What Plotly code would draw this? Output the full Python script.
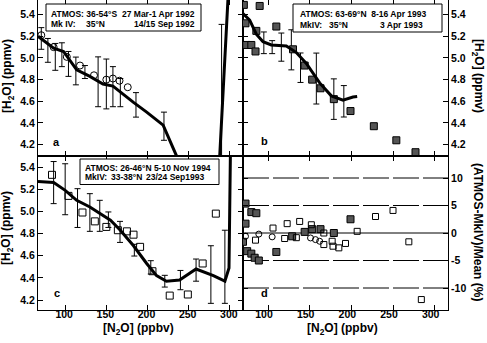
import plotly.graph_objects as go

# ---------------- data ----------------
# panel a : ATMOS 36-54S (circles) and mean MkIV profile (line) with error bars
a_circ_n2o = [71, 86, 102, 118, 135, 150, 158, 166, 176]
a_circ_h2o = [5.21, 5.10, 5.01, 4.93, 4.84, 4.80, 4.81, 4.79, 4.73]
a_line_n2o = [67, 86, 98, 114, 130, 146, 158, 169, 183, 199, 219, 235, 250, 285, 300]
a_line_h2o = [5.20, 5.09, 5.06, 4.89, 4.83, 4.76, 4.74, 4.67, 4.59, 4.50, 4.38, 4.10, 3.85, 3.70, 5.87]
a_err_n2o = [71, 79, 88, 96, 104, 113, 124, 140, 150, 158, 167, 186, 220, 290]
a_err_mid = [5.18, 5.07, 5.01, 5.03, 4.945, 4.88, 4.87, 4.78, 4.76, 4.735, 4.68, 4.567, 4.37, 4.38]
a_err_half = [0.10, 0.11, 0.124, 0.11, 0.115, 0.128, 0.06, 0.23, 0.23, 0.185, 0.13, 0.113, 0.13, 0.93]

# panel b : ATMOS 63-69N (filled squares) and MkIV profile
b_sq_n2o = [71, 90, 73, 86, 110, 74, 80, 85, 130, 144, 153, 163, 179, 199, 227, 254, 277]
b_sq_h2o = [5.49, 5.48, 5.32, 5.25, 5.29, 5.12, 5.12, 5.06, 5.08, 4.93, 4.80, 4.72, 4.62, 4.51, 4.37, 4.24, 4.13]
b_line_n2o = [66, 78, 86, 94, 104, 122, 134, 146, 162, 176, 190, 202, 207]
b_line_h2o = [5.44, 5.35, 5.22, 5.15, 5.12, 5.11, 5.05, 4.95, 4.77, 4.65, 4.61, 4.64, 4.645]
b_err_n2o = [95, 105, 116, 128, 139, 158, 179, 191]
b_err_mid = [5.14, 5.10, 5.10, 5.075, 4.91, 4.81, 4.62, 4.60]
b_err_half = [0.10, 0.06, 0.13, 0.185, 0.136, 0.235, 0.187, 0.145]

# panel c : ATMOS 26-46N (open squares) and MkIV profile
c_sq_n2o = [84, 104, 121, 136, 150, 164, 175, 183, 191, 206, 227, 249, 267, 283]
c_sq_h2o = [5.33, 5.14, 4.99, 4.91, 4.86, 4.83, 4.82, 4.79, 4.68, 4.46, 4.24, 4.25, 4.53, 4.98]
c_line_n2o = [67, 86, 100, 114, 130, 142, 155, 167, 183, 199, 211, 223, 239, 259, 280, 294, 299, 301]
c_line_h2o = [5.27, 5.26, 5.19, 5.10, 5.04, 4.98, 4.92, 4.83, 4.69, 4.53, 4.42, 4.37, 4.38, 4.48, 4.42, 4.37, 4.49, 5.70]
c_err_n2o = [86, 100, 115, 130, 142, 152.5, 166.6, 184, 204, 221, 240, 259, 277, 294]
c_err_mid = [5.26, 5.20, 5.03, 4.99, 4.96, 4.925, 4.815, 4.65, 4.495, 4.37, 4.38, 4.47, 4.43, 4.50]
c_err_half = [0.19, 0.23, 0.175, 0.17, 0.14, 0.07, 0.095, 0.053, 0.06, 0.053, 0.087, 0.10, 0.26, 0.33]

# panel d : (ATMOS-MkIV)/Mean (%)
d_fsq_n2o = [70, 73, 73, 75, 80, 86, 80, 84, 89, 110, 129, 144, 153, 163, 179, 199]
d_fsq_pct = [-1.6, 5.35, 1.7, -3.3, 3.8, 3.6, -3.75, -4.5, -5.0, -3.45, -0.6, 0.2, 0.7, 0.7, 0.0, 2.5]
d_osq_n2o = [85, 106, 120, 123, 134, 138, 152, 167, 167, 177, 178, 185, 193, 207, 229, 250, 269, 284]
d_osq_pct = [-1.3, 0.9, -1.0, 1.7, -0.85, 2.1, 1.5, 0.0, -2.1, -1.5, -2.4, -2.7, -1.9, 0.3, 3.0, 4.1, -1.6, -12.1]
d_circ_n2o = [73, 89, 105, 151, 157, 162]
d_circ_pct = [-0.6, -0.2, -0.7, -0.9, -1.2, -1.5]
d_ref_lines = [-10, -5, 5, 10]

# ticks
x_ticks = [100, 150, 200, 250, 300]
x_ticktext = ["100", "150", "200", "250", "300"]
h2o_ticks = [4.2, 4.4, 4.6, 4.8, 5.0, 5.2, 5.4]
h2o_ticktext = ["4.2", "4.4", "4.6", "4.8", "5.0", "5.2", "5.4"]
pct_ticks = [-10, -5, 0, 5, 10]
pct_ticktext = ["-10", "-5", "0", "5", "10"]

# ---------------- layout helpers ----------------
W, H = 487, 343
ML, MR, MT, MB = 38, 39, 0, 33
PW, PH = W - ML - MR, H - MT - MB
SPLIT = (PH - 156) / PH


def fx(p):
    return (p - ML) / PW


def fy(p):
    return (PH + MT - p) / PH


FONT = "Liberation Sans"
BLACK = "black"

fig = go.Figure()


def line_tr(x, y, xa, ya):
    fig.add_trace(go.Scatter(x=x, y=y, mode="lines", xaxis=xa, yaxis=ya,
                             line=dict(color=BLACK, width=3), hoverinfo="skip"))


def err_tr(x, mid, half, xa, ya):
    fig.add_trace(go.Scatter(x=x, y=mid, mode="markers", xaxis=xa, yaxis=ya,
                             marker=dict(size=1, color="rgba(0,0,0,0)"),
                             error_y=dict(type="data", array=half, color=BLACK,
                                          thickness=1, width=3),
                             hoverinfo="skip"))


def mark_tr(x, y, xa, ya, symbol, size, fill):
    fig.add_trace(go.Scatter(x=x, y=y, mode="markers", xaxis=xa, yaxis=ya,
                             marker=dict(symbol=symbol, size=size, color=fill,
                                         line=dict(color=BLACK, width=1)),
                             hoverinfo="skip"))


# panel a
err_tr(a_err_n2o, a_err_mid, a_err_half, "x", "y")
line_tr(a_line_n2o, a_line_h2o, "x", "y")
mark_tr(a_circ_n2o, a_circ_h2o, "x", "y", "circle-open", 7, BLACK)

# panel b
err_tr(b_err_n2o, b_err_mid, b_err_half, "x2", "y2")
mark_tr(b_sq_n2o, b_sq_h2o, "x2", "y2", "square", 7, "#555555")
line_tr(b_line_n2o, b_line_h2o, "x2", "y2")

# panel c
err_tr(c_err_n2o, c_err_mid, c_err_half, "x3", "y3")
mark_tr(c_sq_n2o, c_sq_h2o, "x3", "y3", "square-open", 7, BLACK)
line_tr(c_line_n2o, c_line_h2o, "x3", "y3")

# panel d
mark_tr(d_fsq_n2o, d_fsq_pct, "x4", "y4", "square", 7, "#555555")
mark_tr(d_osq_n2o, d_osq_pct, "x4", "y4", "square-open", 6, BLACK)
mark_tr(d_circ_n2o, d_circ_pct, "x4", "y4", "circle-open", 6, BLACK)

tickfont = dict(family=FONT, size=10.5, color=BLACK, weight="bold")
common = dict(showline=True, linecolor=BLACK, linewidth=1, mirror="allticks",
              ticks="inside", ticklen=5, tickwidth=1, tickcolor=BLACK,
              showgrid=False, zeroline=False, tickfont=tickfont, fixedrange=True)

xa_ac = dict(range=[67, 316], tickvals=x_ticks, ticktext=x_ticktext, **common)
xa_bd = dict(range=[70, 316], tickvals=x_ticks, ticktext=x_ticktext, **common)

shapes = []
for v in d_ref_lines:
    shapes.append(dict(type="line", xref="x4 domain", yref="y4", x0=0, x1=1, y0=v, y1=v,
                       line=dict(color=BLACK, width=1, dash="26px,4px"), layer="below"))
shapes.append(dict(type="line", xref="x4 domain", yref="y4", x0=0, x1=1, y0=0, y1=0,
                   line=dict(color=BLACK, width=1), layer="below"))

# legend boxes
for (x0, y0, x1, y1) in [(46, 4, 201, 31), (293, 4, 442, 32), (80, 159, 219, 184.5)]:
    shapes.append(dict(type="rect", xref="paper", yref="paper",
                       x0=fx(x0), x1=fx(x1), y0=fy(y1), y1=fy(y0),
                       line=dict(color=BLACK, width=1), fillcolor="white", layer="above"))

annotations = []


def txt(s, x, y, anchor="left", size=8.5, angle=0):
    annotations.append(dict(text=s, x=fx(x), y=fy(y), xref="paper", yref="paper",
                            xanchor=anchor, yanchor="middle", showarrow=False,
                            textangle=angle,
                            font=dict(family=FONT, size=size, color=BLACK, weight="bold")))


# box a
txt("ATMOS: 36-54°S", 49, 14)
txt("27 Mar-1 Apr 1992", 197, 14, "right")
txt("Mk IV:", 49, 24.5)
txt("35°N", 107, 24.5, "right")
txt("14/15 Sep 1992", 197, 24.5, "right")
# box b
txt("ATMOS: 63-69°N\u00a0\u00a08-16 Apr 1993", 298, 14)
txt("MkIV:", 298, 25)
txt("35°N", 350, 25, "right")
txt("3 Apr 1993", 425, 25, "right")
# box c
txt("ATMOS: 26-46°N 5-10 Nov 1994", 83, 167.5)
txt("MkIV:", 83, 177)
txt("33-38°N", 109, 177)
txt("23/24 Sep1993", 144, 177)

# panel letters
txt("a", 56, 142, "center", 11)
txt("b", 264, 141, "center", 11)
txt("c", 57, 293, "center", 11)
txt("d", 264, 293, "center", 11)

# axis titles
txt("[H<sub>2</sub>O] (ppmv)", 8, 76, "center", 12, -90)
txt("[H<sub>2</sub>O] (ppmv)", 7, 228, "center", 12, -90)
txt("[H<sub>2</sub>O] (ppmv)", 478, 76, "center", 12, 90)
txt("(ATMOS-MkIV)/Mean (%)", 478, 232, "center", 12, 90)
txt("[N<sub>2</sub>O] (ppbv)", 138, 329, "center", 12)
txt("[N<sub>2</sub>O] (ppbv)", 342, 329, "center", 12)

fig.update_layout(
    width=W, height=H, autosize=False,
    margin=dict(l=ML, r=MR, t=MT, b=MB, pad=0),
    paper_bgcolor="white", plot_bgcolor="white",
    showlegend=False, hovermode=False,
    font=dict(family=FONT, color=BLACK),
    xaxis=dict(domain=[0, 0.5], anchor="y", showticklabels=False, **xa_ac),
    yaxis=dict(domain=[SPLIT, 1], anchor="x", range=[4.095, 5.535],
               tickvals=h2o_ticks, ticktext=h2o_ticktext, **common),
    xaxis2=dict(domain=[0.5, 1], anchor="y2", showticklabels=False, **xa_bd),
    yaxis2=dict(domain=[SPLIT, 1], anchor="x2", range=[4.095, 5.535], side="right",
                tickvals=h2o_ticks, ticktext=h2o_ticktext, **common),
    xaxis3=dict(domain=[0, 0.5], anchor="y3", ticklabelshift=-1, ticklabelstandoff=-6, **xa_ac),
    yaxis3=dict(domain=[0, SPLIT], anchor="x3", range=[4.11, 5.5],
                tickvals=h2o_ticks, ticktext=h2o_ticktext, **common),
    xaxis4=dict(domain=[0.5, 1], anchor="y4", ticklabelshift=-4, ticklabelstandoff=-6, **xa_bd),
    yaxis4=dict(domain=[0, SPLIT], anchor="x4", range=[-14, 14], side="right",
                tickvals=pct_ticks, ticktext=pct_ticktext, **common),
    shapes=shapes,
    annotations=annotations,
)

fig.write_html("out.html", config={"displayModeBar": False})
